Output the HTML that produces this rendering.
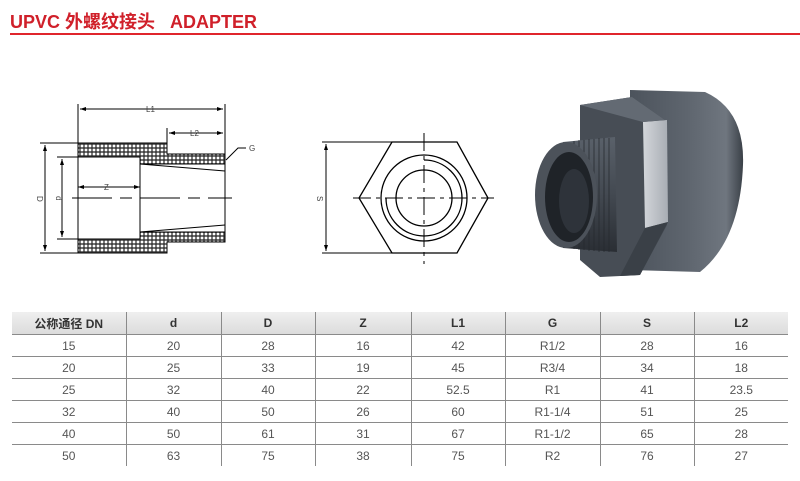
<!DOCTYPE html>
<html><head><meta charset="utf-8"><style>
body{margin:0;background:#fff;width:800px;height:481px;overflow:hidden;position:relative;font-family:"Liberation Sans","Noto Sans CJK SC",sans-serif}
.title{position:absolute;left:10px;top:8px;font-size:18px;font-weight:bold;color:#d0202a;white-space:pre}
.rule{position:absolute;left:10px;top:33px;width:790px;height:2px;background:#e0252c}
table{position:absolute;left:12px;top:312px;width:776px;border-collapse:collapse;font-size:12px;color:#555;table-layout:fixed}
td,th{height:21px;padding:0;text-align:center;border-bottom:1.5px solid #8a8a8a;border-left:1.5px solid #8a8a8a}
td:first-child,th:first-child{border-left:none}
th{background:linear-gradient(#efefef,#dcdcdc);color:#333;font-weight:bold;height:22px}
tr:last-child td{border-bottom:none}
</style></head><body>
<div class="title">UPVC 外螺纹接头   ADAPTER</div>
<div class="rule"></div>
<svg width="800" height="300" style="position:absolute;left:0;top:0">
<defs>
<pattern id="dots" width="4" height="4" patternUnits="userSpaceOnUse"><rect width="4" height="4" fill="#444"/><circle cx="2" cy="2" r="1.4" fill="#fff"/></pattern>
<marker id="ar" markerWidth="6" markerHeight="6" refX="6" refY="3" orient="auto"><path d="M0,1 L6,3 L0,5z" fill="#000"/></marker>
<marker id="al" markerWidth="6" markerHeight="6" refX="0" refY="3" orient="auto"><path d="M6,1 L0,3 L6,5z" fill="#000"/></marker>
<linearGradient id="body" x1="0" y1="0" x2="1" y2="0"><stop offset="0" stop-color="#4c535c"/><stop offset=".5" stop-color="#5e656e"/><stop offset=".85" stop-color="#6f767f"/><stop offset="1" stop-color="#3a4047"/></linearGradient>
<linearGradient id="thr" x1="0" y1="0" x2="0" y2="1"><stop offset="0" stop-color="#5a616a"/><stop offset=".5" stop-color="#434951"/><stop offset="1" stop-color="#2a2e34"/></linearGradient>
<linearGradient id="face" x1="0" y1="0" x2="1" y2="0"><stop offset="0" stop-color="#d3d6da"/><stop offset="1" stop-color="#a8adb4"/></linearGradient>
</defs>
<g stroke="#000" stroke-width="1" fill="none">
<polygon points="78,143 167,143 167,154 225,154 225,164 140,164 140,157 78,157" fill="url(#dots)" stroke="#000"/>
<polygon points="78,253 167,253 167,242 225,242 225,232 140,232 140,239 78,239" fill="url(#dots)" stroke="#000"/>
<path d="M140,164 L225,171 M140,232 L225,225"/>
<line x1="140" y1="164" x2="140" y2="232"/>
<line x1="225" y1="164" x2="225" y2="232"/>
<line x1="78" y1="157" x2="78" y2="239"/>
<line x1="78" y1="104" x2="78" y2="143"/>
<line x1="225" y1="104" x2="225" y2="154"/>
<line x1="167" y1="128" x2="167" y2="143"/>
<line x1="80" y1="109" x2="223" y2="109" marker-start="url(#al)" marker-end="url(#ar)"/>
<line x1="169" y1="133" x2="223" y2="133" marker-start="url(#al)" marker-end="url(#ar)"/>
<line x1="78" y1="187" x2="140" y2="187" marker-start="url(#al)" marker-end="url(#ar)"/>
<line x1="72" y1="198" x2="232" y2="198" stroke-dasharray="40,8,12,8"/>
<line x1="40" y1="143" x2="78" y2="143"/><line x1="40" y1="253" x2="78" y2="253"/>
<line x1="57" y1="157" x2="78" y2="157"/><line x1="57" y1="239" x2="78" y2="239"/>
<line x1="45" y1="145" x2="45" y2="251" marker-start="url(#al)" marker-end="url(#ar)"/>
<line x1="62" y1="159" x2="62" y2="237" marker-start="url(#al)" marker-end="url(#ar)"/>
<path d="M226,160 L238,148 L246,148"/>
<polygon points="392,142 457,142 488,198 457,253 392,253 359,198" stroke-width="1.3"/>
<circle cx="424" cy="198" r="43" stroke-width="1.3"/>
<path d="M424,160 A38,38 0 1 1 386,198" stroke-width="1.3"/>
<circle cx="424" cy="198" r="28" stroke-width="1.3"/>
<line x1="353" y1="198" x2="494" y2="198" stroke-dasharray="18,5,4,5"/>
<line x1="424" y1="133" x2="424" y2="264" stroke-dasharray="18,5,4,5"/>
<line x1="322" y1="142" x2="392" y2="142"/><line x1="322" y1="253" x2="392" y2="253"/>
<line x1="326" y1="144" x2="326" y2="251" marker-start="url(#al)" marker-end="url(#ar)"/>
</g>
<g font-size="8" fill="#444" font-family="Liberation Sans,sans-serif">
<text x="146" y="112">L1</text><text x="190" y="136">L2</text><text x="104" y="190">Z</text>
<text x="249" y="151">G</text>
<text x="38" y="201" transform="rotate(90 40 198)">D</text>
<text x="57" y="201" transform="rotate(90 59 198)">d</text>
<text x="318" y="201" transform="rotate(90 320 198)">S</text>
</g>
<g>
<path d="M630,90 L705,92 Q745,110 743,165 Q740,240 700,272 L630,270 Z" fill="url(#body)"/>
<path d="M580,105 L632,97 L665,120 L667,225 L640,275 L600,277 L580,260 Z" fill="#474d55"/>
<path d="M643,122 L667,120 L668,222 L645,228 Z" fill="url(#face)"/>
<path d="M580,105 L632,97 L665,120 L643,122 Z" fill="#636a73"/>
<path d="M645,228 L668,222 L640,275 L620,276 Z" fill="#3a4047"/>
<path d="M563,142 L615,137 L617,252 L563,248 Z" fill="url(#thr)"/>
<g stroke="#25292e" stroke-width="1" opacity=".75">
<line x1="574" y1="141" x2="574" y2="249"/><line x1="579" y1="140" x2="579" y2="250"/><line x1="584" y1="140" x2="584" y2="250"/><line x1="589" y1="139" x2="589" y2="251"/><line x1="594" y1="139" x2="594" y2="251"/><line x1="599" y1="138" x2="599" y2="252"/><line x1="604" y1="138" x2="604" y2="252"/><line x1="609" y1="138" x2="609" y2="252"/>
</g>
<ellipse cx="566" cy="195" rx="31" ry="53" fill="#4c525a"/>
<ellipse cx="569" cy="197" rx="24" ry="45" fill="#1f2328"/>
<ellipse cx="574" cy="201" rx="15" ry="32" fill="#2e333a"/>
</g>
</svg>
<table>
<colgroup><col style="width:114px"><col style="width:95px"><col style="width:94px"><col style="width:96px"><col style="width:94px"><col style="width:95px"><col style="width:94px"><col style="width:94px"></colgroup>
<tr><th>公称通径 DN</th><th>d</th><th>D</th><th>Z</th><th>L1</th><th>G</th><th>S</th><th>L2</th></tr>
<tr><td>15</td><td>20</td><td>28</td><td>16</td><td>42</td><td>R1/2</td><td>28</td><td>16</td></tr>
<tr><td>20</td><td>25</td><td>33</td><td>19</td><td>45</td><td>R3/4</td><td>34</td><td>18</td></tr>
<tr><td>25</td><td>32</td><td>40</td><td>22</td><td>52.5</td><td>R1</td><td>41</td><td>23.5</td></tr>
<tr><td>32</td><td>40</td><td>50</td><td>26</td><td>60</td><td>R1-1/4</td><td>51</td><td>25</td></tr>
<tr><td>40</td><td>50</td><td>61</td><td>31</td><td>67</td><td>R1-1/2</td><td>65</td><td>28</td></tr>
<tr><td>50</td><td>63</td><td>75</td><td>38</td><td>75</td><td>R2</td><td>76</td><td>27</td></tr>
</table>
</body></html>
